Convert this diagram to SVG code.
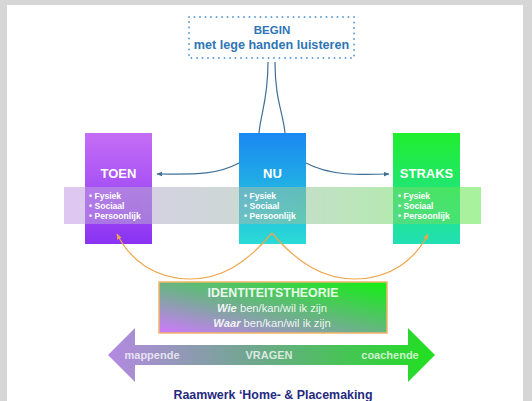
<svg xmlns="http://www.w3.org/2000/svg" width="532" height="401" viewBox="0 0 532 401">
<style>
.t{font-family:"Liberation Sans",Arial,sans-serif;font-weight:bold;fill:#fff;text-anchor:middle}
.b{font-family:"Liberation Sans",Arial,sans-serif;font-weight:bold;fill:#fff;font-size:8.6px}
.blue{fill:none;stroke:#3f6f95;stroke-width:1.2}
.or{fill:none;stroke:#efa54c;stroke-width:1.2}
.r{font-family:"Liberation Sans",Arial,sans-serif;font-size:11.2px;fill:#fff;fill-opacity:0.9;text-anchor:middle}
</style>
<defs>
<linearGradient id="gToen" x1="0" y1="0" x2="0" y2="1"><stop offset="0" stop-color="#c46ef6"/><stop offset="1" stop-color="#8a33f3"/></linearGradient>
<linearGradient id="gNu" x1="0" y1="0" x2="0" y2="1"><stop offset="0" stop-color="#1a88f2"/><stop offset="1" stop-color="#2adbd6"/></linearGradient>
<linearGradient id="gStraks" x1="0" y1="0" x2="0" y2="1"><stop offset="0" stop-color="#1fee2e"/><stop offset="1" stop-color="#22dfb4"/></linearGradient>
<linearGradient id="gBand" x1="0" y1="0" x2="1" y2="0"><stop offset="0" stop-color="#c49ae6"/><stop offset="0.5" stop-color="#9cc0a6"/><stop offset="1" stop-color="#5ee84a"/></linearGradient>
<linearGradient id="gId" x1="0" y1="1" x2="1" y2="0"><stop offset="0" stop-color="#cf78ff"/><stop offset="0.45" stop-color="#6fb08c"/><stop offset="1" stop-color="#10f010"/></linearGradient>
<linearGradient id="gArr" x1="0" y1="0" x2="1" y2="0"><stop offset="0" stop-color="#b589e2"/><stop offset="0.45" stop-color="#6ea88c"/><stop offset="1" stop-color="#20e020"/></linearGradient>
<marker id="mb" viewBox="0 0 10 10" refX="9" refY="5" markerWidth="6" markerHeight="6" orient="auto-start-reverse" markerUnits="userSpaceOnUse"><path d="M0,1 L10,5 L0,9 z" fill="#3f6f95"/></marker>
<marker id="mo" viewBox="0 0 10 10" refX="9" refY="5" markerWidth="6" markerHeight="6" orient="auto-start-reverse" markerUnits="userSpaceOnUse"><path d="M0,1 L10,5 L0,9 z" fill="#efa54c"/></marker>
</defs>
<rect x="0" y="0" width="532" height="401" fill="#d6d6d6"/>
<rect x="7" y="5" width="516" height="396" fill="#ffffff"/>

<g id="begin">
<rect x="189" y="17" width="165" height="41" fill="#fff" stroke="#5b9bd5" stroke-width="1.9" stroke-dasharray="0 5.5" stroke-linecap="round"/>
<text x="272" y="34" font-family="Liberation Sans, Arial, sans-serif" font-weight="bold" font-size="11.5" fill="#2e75b6" text-anchor="middle">BEGIN</text>
<text x="271.5" y="48.5" font-family="Liberation Sans, Arial, sans-serif" font-weight="bold" font-size="12.6" fill="#2e75b6" text-anchor="middle">met lege handen luisteren</text>
</g>

<g id="toen">
<rect x="85" y="133" width="67" height="111" fill="url(#gToen)"/>
</g>
<g id="nu">
<rect x="239" y="133" width="67" height="111" fill="url(#gNu)"/>
</g>
<g id="straks">
<rect x="393" y="133" width="67" height="111" fill="url(#gStraks)"/>
</g>

<g id="band">
<rect x="64" y="187" width="417" height="37" fill="url(#gBand)" opacity="0.55"/>
</g>

<g id="labels">
<text class="t" x="118.5" y="178" font-size="13">TOEN</text>
<text class="b" x="89" y="199">• Fysiek</text>
<text class="b" x="89" y="209">• Sociaal</text>
<text class="b" x="89" y="219">• Persoonlijk</text>
<text class="t" x="272.5" y="178" font-size="13">NU</text>
<text class="b" x="244" y="199">• Fysiek</text>
<text class="b" x="244" y="209">• Sociaal</text>
<text class="b" x="244" y="219">• Persoonlijk</text>
<text class="t" x="426.5" y="178" font-size="13">STRAKS</text>
<text class="b" x="398" y="199">• Fysiek</text>
<text class="b" x="398" y="209">• Sociaal</text>
<text class="b" x="398" y="219">• Persoonlijk</text>
</g>

<g id="connectors">
<path class="blue" d="M268,62 C268,100 261,112 259,133"/>
<path class="blue" d="M275,62 C275,100 283,112 285,133"/>
<path class="blue" d="M239,163 C215,176 190,174 157,174" marker-end="url(#mb)"/>
<path class="blue" d="M306,163 C330,176 360,175 389,174" marker-end="url(#mb)"/>
<path class="or" d="M272,233 C245,265 220,279 190,279 C155,279 130,260 117,234" marker-end="url(#mo)"/>
<path class="or" d="M272,233 C299,265 325,279 355,279 C390,279 415,260 428,234" marker-end="url(#mo)"/>
</g>

<g id="identiteit">
<rect x="159" y="282" width="228" height="51" fill="url(#gId)" stroke="#f2b56a" stroke-width="1.5"/>
<text class="t" x="273" y="297" font-size="12.4" fill-opacity="0.9">IDENTITEITSTHEORIE</text>
<text class="r" x="272" y="312"><tspan font-weight="bold" font-style="italic">Wie</tspan> ben/kan/wil ik zijn</text>
<text class="r" x="272" y="327"><tspan font-weight="bold" font-style="italic">Waar</tspan> ben/kan/wil ik zijn</text>
</g>

<g id="vragen">
<path d="M108,355 L135,328 L135,345 L408,345 L408,328 L435,355 L408,382 L408,365 L135,365 L135,382 Z" fill="url(#gArr)"/>
<text class="t" x="152" y="359" font-size="11" fill-opacity="0.75">mappende</text>
<text class="t" x="269" y="359" font-size="11" fill-opacity="0.75">VRAGEN</text>
<text class="t" x="390" y="359" font-size="11" fill-opacity="0.75">coachende</text>
</g>

<g id="titel">
<text x="273" y="398.5" font-family="Liberation Sans, Arial, sans-serif" font-weight="bold" font-size="12.4" fill="#1f2a80" text-anchor="middle">Raamwerk ‘Home- &amp; Placemaking</text>
</g>
</svg>
